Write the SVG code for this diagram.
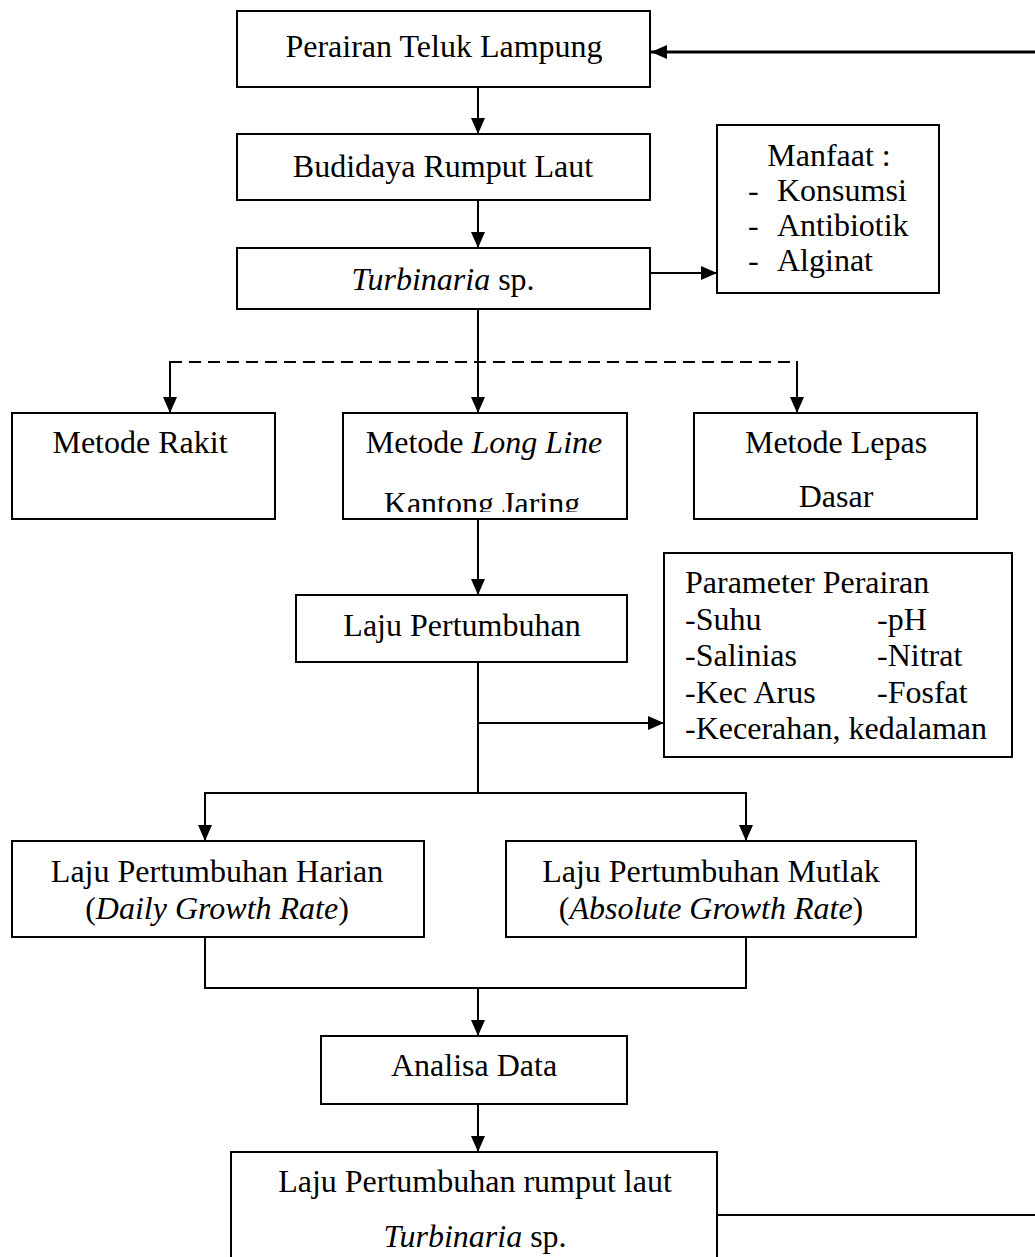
<svg xmlns="http://www.w3.org/2000/svg" width="1035" height="1257" viewBox="0 0 1035 1257">
<style>
.box{fill:#fff;stroke:#000;stroke-width:2}
.t{font-family:"Liberation Serif","Times New Roman",serif;font-size:32px;fill:#000}
.c{text-anchor:middle}
.i{font-style:italic}
.ln{fill:none;stroke:#000;stroke-width:2}
.ar{fill:none;stroke:#000;stroke-width:2;marker-end:url(#ah)}
.dash{fill:none;stroke:#000;stroke-width:2;stroke-dasharray:12 7}
</style>
<defs>
<marker id="ah" viewBox="0 0 16 14" refX="16" refY="7" markerWidth="16" markerHeight="14" markerUnits="userSpaceOnUse" orient="auto">
<path d="M0,0 L16,7 L0,14 z" fill="#000"/>
</marker>
<clipPath id="clipLL"><rect x="343" y="413" width="284" height="99"/></clipPath>
</defs>
<rect width="1035" height="1257" fill="#fff"/>

<g id="connectors">
<line class="ar" x1="1035" y1="52" x2="651" y2="52" style="stroke-width:3"/>
<line class="ar" x1="478" y1="87" x2="478" y2="134"/>
<line class="ar" x1="478" y1="200" x2="478" y2="248"/>
<line class="ar" x1="650" y1="273" x2="717" y2="273"/>
<line class="ar" x1="478" y1="309" x2="478" y2="413"/>
<line class="dash" x1="170" y1="362" x2="797" y2="362"/>
<line class="ar" x1="170" y1="361" x2="170" y2="413"/>
<line class="ar" x1="797" y1="361" x2="797" y2="413"/>
<line class="ar" x1="478" y1="519" x2="478" y2="595"/>
<line class="ln" x1="478" y1="662" x2="478" y2="793"/>
<line class="ar" x1="478" y1="723" x2="664" y2="723"/>
<line class="ln" x1="204" y1="793" x2="747" y2="793"/>
<line class="ar" x1="205" y1="792" x2="205" y2="841"/>
<line class="ar" x1="746" y1="792" x2="746" y2="841"/>
<line class="ln" x1="205" y1="937" x2="205" y2="988"/>
<line class="ln" x1="746" y1="937" x2="746" y2="988"/>
<line class="ln" x1="204" y1="988" x2="747" y2="988"/>
<line class="ar" x1="478" y1="988" x2="478" y2="1036"/>
<line class="ar" x1="478" y1="1104" x2="478" y2="1152"/>
<line class="ln" x1="717" y1="1215" x2="1035" y2="1215"/>
</g>

<g id="n-perairan">
<rect class="box" x="237" y="11" width="413" height="76"/>
<text class="t c" x="444" y="57">Perairan Teluk Lampung</text>
</g>
<g id="n-budidaya">
<rect class="box" x="237" y="134" width="413" height="66"/>
<text class="t c" x="443" y="177">Budidaya Rumput Laut</text>
</g>
<g id="n-turbinaria">
<rect class="box" x="237" y="248" width="413" height="61"/>
<text class="t c" x="443" y="290"><tspan class="i">Turbinaria</tspan> sp.</text>
</g>
<g id="n-manfaat">
<rect class="box" x="717" y="125" width="222" height="168"/>
<text class="t c" x="829" y="166">Manfaat :</text>
<text class="t" x="748" y="201">-</text><text class="t" x="777" y="201">Konsumsi</text>
<text class="t" x="748" y="236">-</text><text class="t" x="777" y="236">Antibiotik</text>
<text class="t" x="748" y="271">-</text><text class="t" x="777" y="271">Alginat</text>
</g>
<g id="n-rakit">
<rect class="box" x="12" y="413" width="263" height="106"/>
<text class="t c" x="140" y="453">Metode Rakit</text>
</g>
<g id="n-longline">
<rect class="box" x="343" y="413" width="284" height="106"/>
<text class="t c" x="484" y="453">Metode <tspan class="i">Long Line</tspan></text>
<text class="t c" x="482" y="514" clip-path="url(#clipLL)">Kantong Jaring</text>
</g>
<g id="n-lepas">
<rect class="box" x="694" y="413" width="283" height="106"/>
<text class="t c" x="836" y="453">Metode Lepas</text>
<text class="t c" x="836" y="507">Dasar</text>
</g>
<g id="n-laju">
<rect class="box" x="296" y="595" width="331" height="67"/>
<text class="t c" x="462" y="636">Laju Pertumbuhan</text>
</g>
<g id="n-parameter">
<rect class="box" x="664" y="553" width="348" height="204"/>
<text class="t" x="685" y="593">Parameter Perairan</text>
<text class="t" x="685" y="630">-Suhu</text><text class="t" x="877" y="630">-pH</text>
<text class="t" x="685" y="666">-Salinias</text><text class="t" x="877" y="666">-Nitrat</text>
<text class="t" x="685" y="703">-Kec Arus</text><text class="t" x="877" y="703">-Fosfat</text>
<text class="t" x="685" y="739">-Kecerahan, kedalaman</text>
</g>
<g id="n-harian">
<rect class="box" x="12" y="841" width="412" height="96"/>
<text class="t c" x="217" y="882">Laju Pertumbuhan Harian</text>
<text class="t c" x="217" y="919">(<tspan class="i">Daily Growth Rate</tspan>)</text>
</g>
<g id="n-mutlak">
<rect class="box" x="506" y="841" width="410" height="96"/>
<text class="t c" x="711" y="882">Laju Pertumbuhan Mutlak</text>
<text class="t c" x="711" y="919">(<tspan class="i">Absolute Growth Rate</tspan>)</text>
</g>
<g id="n-analisa">
<rect class="box" x="321" y="1036" width="306" height="68"/>
<text class="t c" x="474" y="1076">Analisa Data</text>
</g>
<g id="n-hasil">
<rect class="box" x="231" y="1152" width="486" height="120"/>
<text class="t c" x="475" y="1192">Laju Pertumbuhan rumput laut</text>
<text class="t c" x="475" y="1247"><tspan class="i">Turbinaria</tspan> sp.</text>
</g>
</svg>
